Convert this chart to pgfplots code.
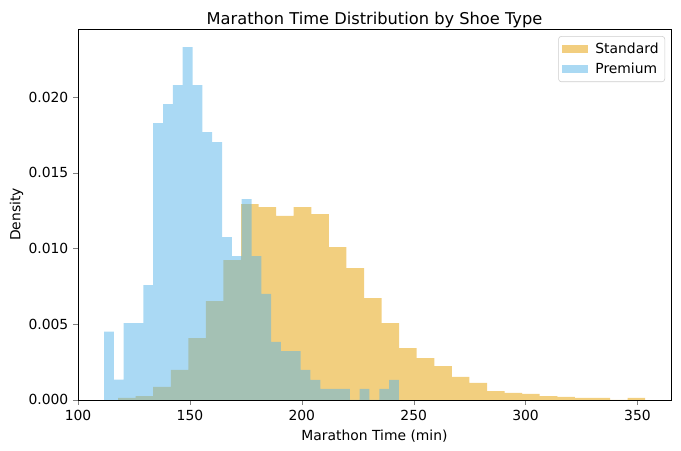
\documentclass[border=0pt]{standalone}
\usepackage{fontspec}
\setmainfont{DejaVu Sans}
\usepackage{pgfplots}
\pgfplotsset{compat=1.18}
\definecolor{stdc}{HTML}{E69F00}
\definecolor{prmc}{HTML}{56B4E9}

% left bin edges, density (last row = right edge)
\pgfplotstableread{
x y
117.88 0.00013
125.73 0.00026
133.58 0.00086
141.44 0.00198
149.29 0.00409
157.14 0.00653
164.99 0.00924
172.85 0.01294
180.70 0.01274
188.55 0.01215
196.40 0.01274
204.26 0.01228
212.11 0.01010
219.96 0.00871
227.81 0.00673
235.67 0.00508
243.52 0.00343
251.37 0.00277
259.22 0.00224
267.08 0.00152
274.93 0.00112
282.78 0.00059
290.63 0.00046
298.48 0.00040
306.34 0.00026
314.19 0.00020
322.04 0.00013
329.89 0.00013
337.75 0.00000
345.60 0.00013
353.45 0.00013
}\standard

\pgfplotstableread{
x y
111.62 0.00451
116.01 0.00134
120.41 0.00508
124.80 0.00508
129.19 0.00759
133.59 0.01828
137.98 0.01954
142.37 0.02079
146.76 0.02330
151.16 0.02079
155.55 0.01769
159.94 0.01703
164.34 0.01076
168.73 0.00950
173.12 0.01327
177.52 0.00950
181.91 0.00700
186.30 0.00383
190.69 0.00323
195.09 0.00323
199.48 0.00198
203.87 0.00132
208.27 0.00073
212.66 0.00073
217.05 0.00073
221.45 0.00000
225.84 0.00073
230.23 0.00000
234.62 0.00073
239.02 0.00132
243.41 0.00132
}\premium

\begin{document}
\begin{tikzpicture}
\useasboundingbox (-56.2pt,-36.7pt) rectangle (434.2pt,288pt);
\begin{axis}[
  at={(0pt,0pt)}, anchor=south west,
  scale only axis,
  width=427pt, height=267.1pt,
  xmin=100, xmax=365,
  ymin=0, ymax=0.0245,
  xtick={100,150,200,250,300,350},
  ytick={0,0.005,0.010,0.015,0.020},
  scaled y ticks=false,
  yticklabel style={/pgf/number format/.cd, fixed, fixed zerofill, precision=3},
  /pgf/number format/assume math mode=true,
  tick align=outside,
  xtick pos=bottom, ytick pos=left,
  major tick length=3.5pt,
  tick label style={font=\fontsize{10}{12}\selectfont},
  label style={font=\fontsize{10}{12}\selectfont},
  ylabel shift=-3pt,
  title style={font=\fontsize{11.7}{14}\selectfont, yshift=-8.5pt},
  title={Marathon Time Distribution by Shoe Type},
  xlabel={Marathon Time (min)},
  ylabel={Density},
  legend style={at={(0.99,0.981)}, anchor=north east,
    draw=black!20, rounded corners=2pt, font=\fontsize{10}{12}\selectfont,
    inner sep=2.5pt, row sep=1.5pt},
  legend cell align=left,
  legend image code/.code={\fill[#1, sharp corners] (0pt,-2.9pt) rectangle (18.7pt,2.9pt);
    \path (22pt,0pt);},
]
\addplot[ybar interval, fill=stdc, fill opacity=0.5, draw=none] table[x=x,y=y] {\standard};
\addlegendentry{Standard}
\addplot[ybar interval, fill=prmc, fill opacity=0.5, draw=none] table[x=x,y=y] {\premium};
\addlegendentry{Premium}
\end{axis}
\end{tikzpicture}
\end{document}
